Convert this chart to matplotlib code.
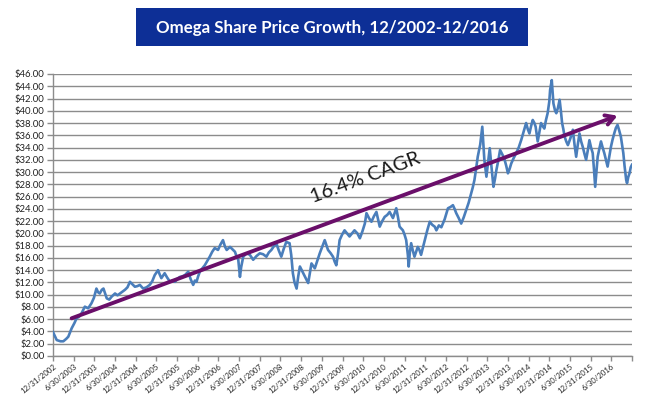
import matplotlib
matplotlib.use("Agg")
import matplotlib.pyplot as plt
from matplotlib.patches import Rectangle

# ---- data (decimal years, share price in $) ----
years = [2003.00, 2003.09, 2003.18, 2003.25, 2003.32, 2003.37, 2003.45, 2003.52, 2003.57, 2003.63,
         2003.69, 2003.77, 2003.85, 2003.93, 2003.99, 2004.05, 2004.09, 2004.13, 2004.18, 2004.22,
         2004.30, 2004.36, 2004.42, 2004.50, 2004.56, 2004.62, 2004.68, 2004.74, 2004.80, 2004.86,
         2004.92, 2004.98, 2005.04, 2005.10, 2005.18, 2005.26, 2005.34, 2005.40, 2005.46, 2005.54,
         2005.58, 2005.62, 2005.70, 2005.76, 2005.83, 2005.89, 2005.95, 2006.01, 2006.07, 2006.13,
         2006.19, 2006.27, 2006.33, 2006.39, 2006.43, 2006.47, 2006.51, 2006.55, 2006.61, 2006.67,
         2006.73, 2006.79, 2006.85, 2006.91, 2006.99, 2007.05, 2007.11, 2007.16, 2007.20, 2007.28,
         2007.34, 2007.40, 2007.44, 2007.48, 2007.52, 2007.55, 2007.60, 2007.68, 2007.76, 2007.84,
         2007.92, 2008.00, 2008.08, 2008.16, 2008.22, 2008.28, 2008.34, 2008.40, 2008.46, 2008.52,
         2008.58, 2008.64, 2008.72, 2008.76, 2008.80, 2008.84, 2008.89, 2008.93, 2008.97, 2009.05,
         2009.11, 2009.17, 2009.21, 2009.25, 2009.33, 2009.39, 2009.45, 2009.51, 2009.57, 2009.65,
         2009.71, 2009.77, 2009.81, 2009.85, 2009.89, 2009.93, 2009.99, 2010.05, 2010.11, 2010.17,
         2010.23, 2010.29, 2010.36, 2010.42, 2010.48, 2010.54, 2010.58, 2010.64, 2010.70, 2010.76,
         2010.82, 2010.86, 2010.90, 2010.96, 2011.02, 2011.08, 2011.14, 2011.18, 2011.22, 2011.30,
         2011.34, 2011.38, 2011.46, 2011.50, 2011.54, 2011.58, 2011.60, 2011.63, 2011.66, 2011.70,
         2011.74, 2011.78, 2011.82, 2011.86, 2011.90, 2011.95, 2011.99, 2012.05, 2012.11, 2012.17,
         2012.23, 2012.27, 2012.33, 2012.39, 2012.47, 2012.55, 2012.61, 2012.67, 2012.71, 2012.75,
         2012.81, 2012.87, 2012.93, 2012.99, 2013.05, 2013.11, 2013.15, 2013.19, 2013.23, 2013.27,
         2013.33, 2013.38, 2013.41, 2013.43, 2013.48, 2013.52, 2013.56, 2013.60, 2013.65, 2013.69,
         2013.72, 2013.77, 2013.81, 2013.87, 2013.92, 2013.96, 2014.00, 2014.04, 2014.08, 2014.14,
         2014.20, 2014.26, 2014.32, 2014.38, 2014.44, 2014.48, 2014.52, 2014.56, 2014.60, 2014.64,
         2014.67, 2014.72, 2014.76, 2014.80, 2014.84, 2014.88, 2014.92, 2014.96, 2015.00, 2015.02,
         2015.06, 2015.08, 2015.10, 2015.14, 2015.17, 2015.21, 2015.25, 2015.28, 2015.31, 2015.34,
         2015.37, 2015.41, 2015.45, 2015.51, 2015.57, 2015.61, 2015.65, 2015.69, 2015.73, 2015.77,
         2015.81, 2015.85, 2015.89, 2015.93, 2015.97, 2016.01, 2016.05, 2016.08, 2016.11, 2016.14,
         2016.17, 2016.21, 2016.25, 2016.29, 2016.33, 2016.37, 2016.41, 2016.45, 2016.49, 2016.53,
         2016.57, 2016.61, 2016.65, 2016.69, 2016.73, 2016.76, 2016.79, 2016.82, 2016.86, 2016.88,
         2016.91, 2016.94, 2016.97, 2017.00]
prices = [3.9, 2.6, 2.4, 2.4, 2.8, 3.15, 4.5, 5.4, 6.15, 6.4,
          6.96, 8.05, 7.78, 8.6, 9.5, 11.0, 10.4, 10.2, 10.8, 11.0,
          9.4, 9.2, 9.7, 10.2, 9.9, 10.2, 10.5, 10.8, 11.2, 12.1,
          11.7, 11.3, 11.4, 11.6, 11.0, 11.2, 11.6, 12.2, 13.2, 14.0,
          13.3, 12.7, 13.5, 12.8, 12.1, 12.3, 12.1, 12.6, 12.9, 13.0,
          13.2, 13.75, 12.5, 11.6, 12.3, 12.1, 13.0, 13.75, 14.3, 14.8,
          15.5, 16.2, 17.0, 17.6, 17.3, 18.2, 18.9, 17.8, 17.3, 17.8,
          17.4, 17.0, 16.2, 15.7, 12.9, 14.5, 16.2, 16.75, 16.5, 15.7,
          16.3, 16.75, 16.6, 16.2, 16.9, 17.3, 17.9, 18.4, 17.2, 16.2,
          17.5, 18.6, 18.4, 16.5, 13.5, 12.0, 11.0, 13.0, 14.6, 13.5,
          12.7, 11.9, 13.5, 15.1, 14.3, 15.5, 16.75, 17.8, 18.9, 17.3,
          16.8, 16.2, 15.4, 14.8, 16.6, 18.9, 19.8, 20.5, 20.0, 19.5,
          20.0, 20.5, 20.0, 19.2, 20.3, 21.6, 23.3, 22.5, 21.9, 22.8,
          23.5, 22.3, 21.1, 22.0, 22.7, 23.0, 23.5, 23.0, 22.5, 24.1,
          22.7, 21.1, 20.5, 19.8, 18.9, 16.5, 14.6, 17.0, 18.4, 17.2,
          16.2, 17.0, 17.8, 17.3, 16.5, 17.8, 18.9, 20.5, 21.9, 21.4,
          21.1, 20.5, 21.3, 21.0, 22.3, 24.1, 24.3, 24.6, 24.0, 23.3,
          22.5, 21.6, 22.6, 23.8, 25.0, 26.5, 27.5, 28.7, 30.5, 32.5,
          34.5, 37.4, 34.0, 32.0, 29.25, 31.5, 33.9, 31.0, 27.6, 29.0,
          30.3, 32.0, 33.6, 32.8, 32.0, 31.0, 29.8, 30.5, 31.4, 32.3,
          33.1, 34.0, 35.2, 36.6, 38.0, 37.0, 36.3, 37.5, 38.5, 38.0,
          37.4, 35.0, 36.5, 38.0, 37.5, 37.1, 38.5, 39.6, 41.5, 43.4,
          45.0, 43.0, 41.2, 40.0, 39.6, 40.5, 41.8, 40.0, 38.0, 37.0,
          35.8, 35.0, 34.4, 35.5, 36.9, 34.5, 32.5, 34.5, 36.3, 35.0,
          34.1, 33.0, 32.0, 33.5, 35.2, 34.0, 33.1, 30.5, 27.6, 30.0,
          32.5, 33.8, 35.0, 34.0, 33.1, 32.0, 30.9, 32.5, 34.1, 35.3,
          36.3, 37.2, 37.7, 36.8, 35.8, 34.5, 33.1, 31.0, 28.7, 28.2,
          29.2, 29.8, 30.8, 31.2]

# x ticks every half year; last tick (12/31/2016) has no label
tick_years = [2003.0 + 0.5 * i for i in range(29)]
tick_labels = []
for i in range(29):
    if i == 28:
        tick_labels.append("")
    elif i % 2 == 0:
        tick_labels.append(f"12/31/{2002 + i // 2}")
    else:
        tick_labels.append(f"6/30/{2003 + i // 2}")

y_ticks = list(range(0, 47, 2))
y_tick_labels = [f"${v:.2f}" for v in y_ticks]

cagr_start = (2003.45, 6.15)
cagr_end = (2016.65, 39.2)
cagr_label = "16.4% CAGR"
title = "Omega Share Price Growth, 12/2002-12/2016"

# ---- figure ----
fig = plt.figure(figsize=(6.5, 3.98), dpi=100)
fig.patch.set_facecolor("white")

W, H = 650, 398
ax = fig.add_axes([53 / W, 1 - 356 / H, (632 - 53) / W, (356 - 74) / H])

ax.plot(years, prices, color="#4A7EBB", lw=1.9, zorder=3)

ax.set_xlim(2003.0, 2017.0)
ax.set_ylim(0, 46)
ax.set_yticks(y_ticks)
ax.set_yticklabels(y_tick_labels)
ax.set_xticks(tick_years)
ax.set_xticklabels(tick_labels, rotation=38, ha="right", va="top",
                   rotation_mode="anchor")

ax.grid(axis="y", color="#8C8C8C", lw=1.0)
ax.set_axisbelow(True)
for s in ["top", "right"]:
    ax.spines[s].set_visible(False)
for s in ["left", "bottom"]:
    ax.spines[s].set_color("#8C8C8C")
    ax.spines[s].set_linewidth(1.0)
ax.tick_params(axis="both", colors="#8C8C8C", width=1.0, labelcolor="#222222")
ax.tick_params(axis="y", length=4, pad=2, labelsize=6.8)
ax.tick_params(axis="x", length=3.5, pad=1.5, labelsize=5.6)
for lab in ax.get_xticklabels() + ax.get_yticklabels():
    lab.set_family("Lato")

ax.annotate("", xy=cagr_end, xytext=cagr_start,
            arrowprops=dict(arrowstyle="->,head_length=0.6,head_width=0.35",
                            color="#6A0F6A", lw=2.8, shrinkA=0, shrinkB=0),
            zorder=5)
ax.text(2010.56, 29.0, cagr_label, rotation=20.3, rotation_mode="anchor",
        ha="center", va="center", fontsize=14.5, family="Lato",
        color="#1A1A1A", zorder=6)

# title box
fig.patches.append(Rectangle((136 / W, 1 - 46 / H), (528 - 136) / W, (46 - 8) / H,
                             transform=fig.transFigure, facecolor="#0D2F96",
                             edgecolor="none"))
fig.text(332 / W, 1 - 27.5 / H, title, ha="center", va="center", color="white",
         fontsize=12.2, fontweight="bold", family="Lato")

fig.savefig("out.png", dpi=100)
